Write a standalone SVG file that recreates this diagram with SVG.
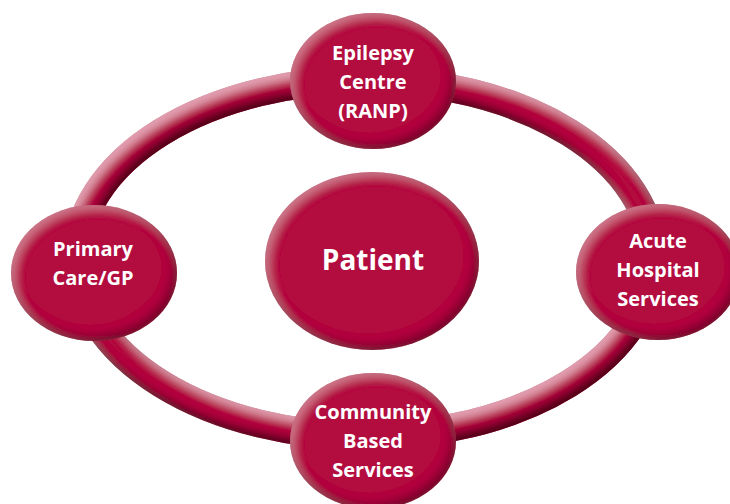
<svg xmlns="http://www.w3.org/2000/svg" width="730" height="504" viewBox="0 0 730 504">
  <defs>
    <style>
      .node { fill: #b30e3f; }
      .lbl { fill: #ffffff; font-family: "Open Sans", "Liberation Sans", sans-serif; font-weight: 700; font-size: 20px; text-anchor: middle; }
      .big { font-size: 28px; }
      .ring { fill: none; stroke: #b3103f; stroke-width: 28; }
    </style>
    <filter id="bevel" x="-15%" y="-15%" width="130%" height="130%">
      <feGaussianBlur in="SourceAlpha" stdDeviation="5" result="b"/>
      <feOffset in="b" dx="-4" dy="-5" result="o1"/>
      <feComposite in="SourceAlpha" in2="o1" operator="out" result="dk"/>
      <feFlood flood-color="#3a0012" flood-opacity="0.7"/>
      <feComposite in2="dk" operator="in" result="dark"/>
      <feOffset in="b" dx="4" dy="4" result="o2"/>
      <feComposite in="SourceAlpha" in2="o2" operator="out" result="lt"/>
      <feFlood flood-color="#f2b3c6" flood-opacity="0.45"/>
      <feComposite in2="lt" operator="in" result="light"/>
      <feMerge>
        <feMergeNode in="SourceGraphic"/>
        <feMergeNode in="light"/>
        <feMergeNode in="dark"/>
      </feMerge>
    </filter>
    <filter id="tube" x="-10%" y="-15%" width="120%" height="130%">
      <feGaussianBlur in="SourceAlpha" stdDeviation="4" result="b"/>
      <feOffset in="b" dx="-4" dy="-7" result="o1"/>
      <feComposite in="SourceAlpha" in2="o1" operator="out" result="dk"/>
      <feFlood flood-color="#35000f" flood-opacity="0.9"/>
      <feComposite in2="dk" operator="in" result="dark"/>
      <feOffset in="b" dx="4" dy="7" result="o2"/>
      <feComposite in="SourceAlpha" in2="o2" operator="out" result="lt"/>
      <feFlood flood-color="#f4bccd" flood-opacity="0.7"/>
      <feComposite in2="lt" operator="in" result="light"/>
      <feMerge>
        <feMergeNode in="SourceGraphic"/>
        <feMergeNode in="light"/>
        <feMergeNode in="dark"/>
      </feMerge>
    </filter>
  </defs>

  <g id="connectors">
    <ellipse class="ring" cx="365" cy="258" rx="288" ry="178" filter="url(#tube)"/>
  </g>

  <g id="node-epilepsy">
    <ellipse class="node" cx="373" cy="81" rx="83" ry="68" filter="url(#bevel)"/>
    <text class="lbl" x="373" y="60">Epilepsy</text>
    <text class="lbl" x="373" y="89">Centre</text>
    <text class="lbl" x="373" y="118">(RANP)</text>
  </g>

  <g id="node-primary">
    <ellipse class="node" cx="94" cy="273" rx="83" ry="68" filter="url(#bevel)"/>
    <text class="lbl" x="93" y="256">Primary</text>
    <text class="lbl" x="93" y="285">Care/GP</text>
  </g>

  <g id="node-acute">
    <ellipse class="node" cx="658" cy="272" rx="82" ry="68" filter="url(#bevel)"/>
    <text class="lbl" x="658" y="248">Acute</text>
    <text class="lbl" x="658" y="277">Hospital</text>
    <text class="lbl" x="658" y="306">Services</text>
  </g>

  <g id="node-community">
    <ellipse class="node" cx="373" cy="441" rx="83" ry="68" filter="url(#bevel)"/>
    <text class="lbl" x="373" y="419">Community</text>
    <text class="lbl" x="373" y="448">Based</text>
    <text class="lbl" x="373" y="477">Services</text>
  </g>

  <g id="node-patient">
    <ellipse class="node" cx="372" cy="261" rx="107" ry="89" filter="url(#bevel)"/>
    <text class="lbl big" x="373" y="270">Patient</text>
  </g>
</svg>
